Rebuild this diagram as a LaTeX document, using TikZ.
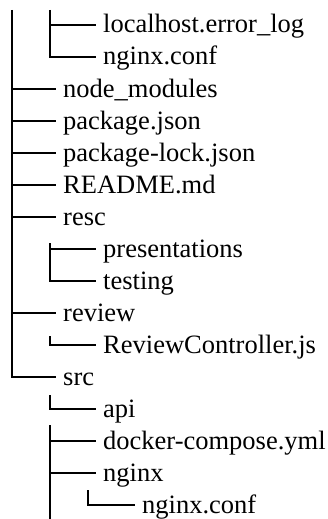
\documentclass[tikz,border=0pt]{standalone}
\usepackage{fontspec}
\setmainfont{Liberation Serif}
\begin{document}
\begin{tikzpicture}[x=1pt,y=-1pt,
  file/.style={anchor=west,inner xsep=7pt,inner ysep=0pt,text height=16pt,text depth=0pt,font=\fontsize{26.5}{30}\selectfont},
  branch/.style={line width=1.7pt}]
\useasboundingbox (0,0) rectangle (328,519);
% level 1 (x line 12 -> 56)
\node[file] (n2) at (56,89) {node\_modules};
\node[file] (n3) at (56,121) {package.json};
\node[file] (n4) at (56,153) {package-lock.json};
\node[file] (n5) at (56,185) {README.md};
\node[file] (n6) at (56,217) {resc};
\node[file] (n9) at (56,313) {review};
\node[file] (n11) at (56,377) {src};
% level 2 (x line 50 -> 96)
\node[file] (n0) at (96,25) {localhost.error\_log};
\node[file] (n1) at (96,57) {nginx.conf};
\node[file] (n7) at (96,249) {presentations};
\node[file] (n8) at (96,281) {testing};
\node[file] (n10) at (96,345) {ReviewController.js};
\node[file] (n12) at (96,409) {api};
\node[file] (n13) at (96,441) {docker-compose.yml};
\node[file] (n14) at (96,473) {nginx};
% level 3 (x line 88 -> 135)
\node[file] (n15) at (135,505) {nginx.conf};
% vertical tops
\coordinate (m0) at (12,10);
\coordinate (s0) at (50,10);
\coordinate (s1) at (50,243);
\coordinate (s2) at (50,336);
\coordinate (s3) at (50,395);
\coordinate (s4) at (50,425);
\coordinate (s4e) at (50,519);
\coordinate (t0) at (88,490);
% main trunk
\draw[branch] (m0) |- (n11.west);
\foreach \n in {n2,n3,n4,n5,n6,n9} \draw[branch] (m0 |- \n.west) -- (\n.west);
% sub trees
\draw[branch] (s0) |- (n1.west);
\draw[branch] (s0 |- n0.west) -- (n0.west);
\draw[branch] (s1) |- (n8.west);
\draw[branch] (s1 |- n7.west) -- (n7.west);
\draw[branch] (s2) |- (n10.west);
\draw[branch] (s3) |- (n12.west);
\draw[branch] (s4) -- (s4e);
\draw[branch] (s4 |- n13.west) -- (n13.west);
\draw[branch] (s4 |- n14.west) -- (n14.west);
\draw[branch] (t0) |- (n15.west);
\end{tikzpicture}
\end{document}
